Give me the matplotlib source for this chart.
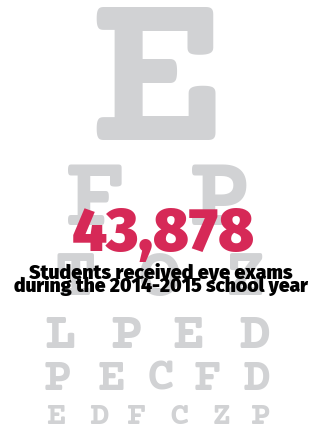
#!/usr/bin/env python3
"""Eye chart infographic: students receiving eye exams."""
import matplotlib
matplotlib.use('Agg')
import matplotlib.pyplot as plt
from matplotlib.font_manager import FontProperties
from matplotlib.textpath import TextPath

# Data
chart_rows = ["E", "FP", "TOZ", "LPED", "PECFD", "EDFCZP"]
stat_value = "43,878"
stat_caption = ["Students received eye exams",
                "during the 2014-2015 school year"]

# Layout (pixel coords, y down)
row_x = [
    [158],
    [96, 220],
    [75, 160, 245],
    [60, 126, 188, 254],
    [58, 112, 161, 208, 257],
    [56, 99, 137, 179, 222, 261],
]
row_base = [140, 225, 295, 348, 390, 424]
row_size = [133, 60, 42, 31, 27, 19]

GRAY = '#d1d2d4'
RED = '#d62957'

slab = FontProperties(family=['Courier Prime', 'Liberation Mono'], weight='bold')
fira = FontProperties(family='Fira Sans', weight=900)


def cap_ratio(prop, ch='E'):
    ext = TextPath((0, 0), ch, size=100, prop=prop).get_extents()
    return ext.height / 100


W, H = 319, 426
fig = plt.figure(figsize=(W / 100, H / 100), dpi=100)
ax = fig.add_axes([0, 0, 1, 1])
ax.set_xlim(0, W)
ax.set_ylim(H, 0)
ax.axis('off')

px = 72 / 100  # pixels -> points
slab_cap = cap_ratio(slab)
fira_cap = cap_ratio(fira, 'H')

for letters, xs, yb, hgt in zip(chart_rows, row_x, row_base, row_size):
    for ch, x in zip(letters, xs):
        ax.text(x, yb, ch, ha='center', va='baseline', color=GRAY,
                fontproperties=slab, fontsize=hgt / slab_cap * px, zorder=1)

ax.text(163, 251, stat_value, ha='center', va='baseline', color=RED,
        fontproperties=fira, fontsize=42 / fira_cap * px, zorder=3)

ax.text(161, 279, stat_caption[0], ha='center', va='baseline', color='black',
        fontproperties=fira, fontsize=13.6 / fira_cap * px, zorder=3)
ax.text(161, 292, stat_caption[1], ha='center', va='baseline', color='black',
        fontproperties=fira, fontsize=13.4 / fira_cap * px, zorder=3)

fig.savefig('out.png', dpi=100, facecolor='white')
plt.close()
